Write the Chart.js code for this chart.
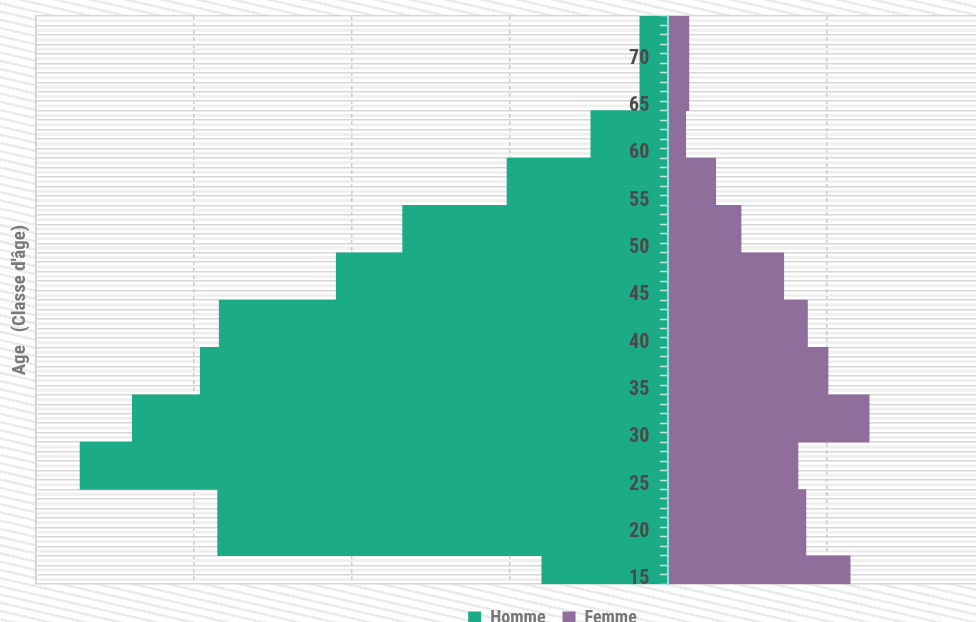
<!DOCTYPE html>
<html>
<head>
<meta charset="utf-8">
<script src="https://cdn.jsdelivr.net/npm/chart.js@4"></script>
<style>
  html, body { margin: 0; padding: 0; overflow: hidden; width: 976px; height: 622px; }
  body {
    background: repeating-linear-gradient(193deg, #ffffff 0px, #ffffff 5.5px, #ebebeb 5.5px, #ebebeb 8px);
  }
  #wrap { position: absolute; left: 0; top: 0; width: 1100px; height: 637px; }
</style>
</head>
<body>
<div id="wrap"><canvas id="pyramid"></canvas></div>
<script>
const ages = [
  15, 16, 17, 18, 19, 20, 21, 22, 23, 24,
  25, 26, 27, 28, 29, 30, 31, 32, 33, 34,
  35, 36, 37, 38, 39, 40, 41, 42, 43, 44,
  45, 46, 47, 48, 49, 50, 51, 52, 53, 54,
  55, 56, 57, 58, 59, 60, 61, 62, 63, 64,
  65, 66, 67, 68, 69, 70, 71, 72, 73, 74,
];

// hommes en négatif (côté gauche)
const homme = [
  -80, -80, -80, -285, -285, -285, -285, -285, -285, -285,
  -372, -372, -372, -372, -372, -339, -339, -339, -339, -339,
  -296, -296, -296, -296, -296, -284, -284, -284, -284, -284,
  -210, -210, -210, -210, -210, -168, -168, -168, -168, -168,
  -102, -102, -102, -102, -102, -49, -49, -49, -49, -49,
  -18, -18, -18, -18, -18, -18, -18, -18, -18, -18,
];

const femme = [
  115, 115, 115, 87, 87, 87, 87, 87, 87, 87,
  82, 82, 82, 82, 82, 127, 127, 127, 127, 127,
  101, 101, 101, 101, 101, 88, 88, 88, 88, 88,
  73, 73, 73, 73, 73, 46, 46, 46, 46, 46,
  30, 30, 30, 30, 30, 11, 11, 11, 11, 11,
  13, 13, 13, 13, 13, 13, 13, 13, 13, 13,
];

const ageTicks = [15, 20, 25, 30, 35, 40, 45, 50, 55, 60, 65, 70];

const FONT = "'Liberation Sans Narrow', 'Roboto Condensed', 'DejaVu Sans Condensed', sans-serif";

// fond blanc + bandes claires dans la zone du graphique
const plotBackground = {
  id: "plotBackground",
  beforeDraw(chart) {
    const { ctx, chartArea: a, scales } = chart;
    ctx.save();
    ctx.fillStyle = "#ffffff";
    ctx.fillRect(a.left, a.top, a.right - a.left, a.bottom - a.top);
    ctx.fillStyle = "#efefef";
    ages.forEach((age, i) => {
      const y = scales.y.getPixelForValue(i);
      ctx.fillRect(a.left, y - 1.5, a.right - a.left, 3);
    });
    ctx.restore();
  },
};

// les axes centraux ne doivent pas rétrécir la zone du graphique
const noPadding = (scale) => {
  scale.paddingTop = 0;
  scale.paddingBottom = 0;
};

new Chart(document.getElementById("pyramid"), {
  type: "bar",
  data: {
    labels: ages,
    datasets: [
      {
        label: "Homme",
        data: homme,
        backgroundColor: "#1bab87",
        borderWidth: 0,
        barPercentage: 1,
        categoryPercentage: 1,
        yAxisID: "y",
      },
      {
        label: "Femme",
        data: femme,
        backgroundColor: "#8f6e9b",
        borderWidth: 0,
        barPercentage: 1,
        categoryPercentage: 1,
        yAxisID: "y",
      },
    ],
  },
  options: {
    indexAxis: "y",
    responsive: true,
    maintainAspectRatio: false,
    animation: false,
    layout: { padding: { top: 16, left: 5, right: 0, bottom: 0 } },
    plugins: {
      tooltip: { enabled: false },
      legend: {
        position: "bottom",
        title: { display: true, text: " ", padding: 0, font: { size: 6.5 } },
        labels: {
          boxWidth: 13,
          boxHeight: 13,
          padding: 17,
          color: "#777777",
          font: { family: FONT, size: 18, weight: "bold" },
        },
      },
    },
    scales: {
      x: {
        type: "linear",
        stacked: true,
        min: -400,
        max: 273,
        ticks: { display: false, stepSize: 100 },
        grid: { color: "#cccccc", drawTicks: false, lineWidth: 1.5 },
        border: { display: false, dash: [4, 3] },
      },
      y: {
        type: "category",
        stacked: true,
        reverse: true,
        position: "left",
        offset: true,
        ticks: { display: false },
        grid: { offset: true, color: "#d6d6d6", drawTicks: false, lineWidth: 1.5 },
        border: { color: "#cfcfcf", width: 1.5 },
        title: {
          display: true,
          text: "Age   (Classe d'âge)",
          color: "#7a7a7a",
          font: { family: FONT, size: 19, weight: "bold" },
          padding: { top: 4, bottom: 4 },
        },
      },
      // ligne centrale et petites graduations
      yc: {
        type: "category",
        axis: "y",
        reverse: true,
        position: { x: 0 },
        offset: true,
        afterFit: noPadding,
        grid: {
          offset: true,
          z: 1,
          drawOnChartArea: false,
          drawTicks: true,
          tickLength: 7,
          tickColor: "#c4e8ea",
          tickWidth: 1.5,
        },
        border: { z: 1, color: "#9fd8dc", width: 2 },
        ticks: { display: true, autoSkip: false, callback: () => "" },
      },
      // étiquettes d'âge, à gauche de la ligne centrale
      yl: {
        type: "category",
        axis: "y",
        reverse: true,
        position: { x: -12 },
        offset: true,
        afterFit: noPadding,
        grid: { display: false },
        border: { display: false },
        ticks: {
          z: 1,
          autoSkip: false,
          color: "#4a4a4a",
          font: { family: FONT, size: 20, weight: "bold" },
          callback: function (value) {
            const age = ages[value];
            return ageTicks.includes(age) ? String(age) : "";
          },
        },
      },
    },
  },
  plugins: [plotBackground],
});
</script>
</body>
</html>
